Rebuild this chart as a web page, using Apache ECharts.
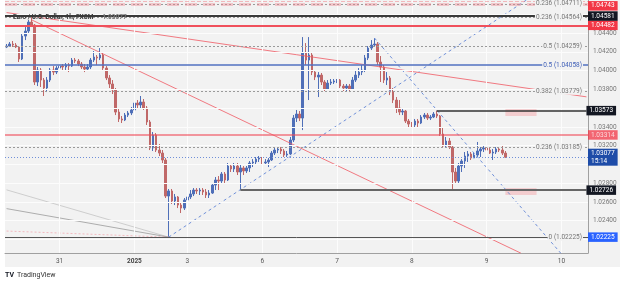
<!DOCTYPE html>
<html>
<head>
<meta charset="utf-8">
<script src="https://cdn.jsdelivr.net/npm/echarts@6/dist/echarts.min.js"></script>
<style>
html, body { margin: 0; padding: 0; background: #fff; }
#chart { width: 625px; height: 286px; }
</style>
</head>
<body>
<div id="chart"></div>
<script>
// EUR/USD 1h, FXCM - hourly bars
var opens = [1.04251,1.04261,1.04283,1.04272,1.04251,1.04123,1.04368,1.04421,1.04517,1.04485,
1.03878,1.04006,1.03899,1.03814,1.03899,1.04006,1.03984,1.04027,1.04048,1.04038,
1.04059,1.04048,1.04112,1.04102,1.04070,1.04038,1.04016,1.04038,1.04112,1.04144,
1.04134,1.04166,1.04027,1.03921,1.03857,1.03793,1.03558,1.03484,1.03473,1.03526,
1.03548,1.03580,1.03654,1.03633,1.03665,1.03601,1.03452,1.03175,1.03313,1.03153,
1.03121,1.03047,1.02663,1.02717,1.02610,1.02653,1.02567,1.02535,1.02621,1.02653,
1.02685,1.02727,1.02717,1.02727,1.02706,1.02674,1.02695,1.02780,1.02834,1.02823,
1.02898,1.02834,1.02983,1.02951,1.02983,1.02919,1.02962,1.02930,1.02962,1.03015,
1.03026,1.03057,1.03068,1.03015,1.03026,1.03047,1.03121,1.03153,1.03164,1.03143,
1.03100,1.03111,1.03260,1.03494,1.03537,1.03494,1.04187,1.04112,1.04166,1.03984,
1.03931,1.03952,1.03878,1.03803,1.03867,1.03878,1.03889,1.03899,1.03835,1.03814,
1.03835,1.03803,1.03899,1.03952,1.03984,1.04006,1.04134,1.04240,1.04272,1.04283,
1.04091,1.04038,1.03899,1.03921,1.03771,1.03686,1.03601,1.03558,1.03569,1.03462,
1.03430,1.03420,1.03462,1.03441,1.03505,1.03526,1.03494,1.03505,1.03537,1.03516,
1.03324,1.03196,1.03249,1.03185,1.02919,1.02823,1.02983,1.03036,1.03089,1.03111,
1.03068,1.03100,1.03143,1.03164,1.03175,1.03153,1.03121,1.03132,1.03164,1.03153,
1.03121];
var closes = [1.04261,1.04283,1.04272,1.04251,1.04123,1.04368,1.04421,1.04517,1.04485,1.03878,
1.04006,1.03899,1.03814,1.03899,1.04006,1.03984,1.04027,1.04048,1.04038,1.04059,
1.04048,1.04112,1.04102,1.04070,1.04038,1.04016,1.04038,1.04112,1.04144,1.04134,
1.04166,1.04027,1.03921,1.03857,1.03793,1.03558,1.03484,1.03473,1.03526,1.03548,
1.03580,1.03654,1.03633,1.03665,1.03601,1.03452,1.03175,1.03313,1.03153,1.03121,
1.03047,1.02663,1.02717,1.02610,1.02653,1.02567,1.02535,1.02621,1.02653,1.02685,
1.02727,1.02717,1.02727,1.02706,1.02674,1.02695,1.02780,1.02834,1.02823,1.02898,
1.02834,1.02983,1.02951,1.02983,1.02919,1.02962,1.02930,1.02962,1.03015,1.03026,
1.03057,1.03068,1.03015,1.03026,1.03047,1.03121,1.03153,1.03164,1.03143,1.03100,
1.03111,1.03260,1.03494,1.03537,1.03494,1.04187,1.04112,1.04166,1.03984,1.03931,
1.03952,1.03878,1.03803,1.03867,1.03878,1.03889,1.03899,1.03835,1.03814,1.03835,
1.03803,1.03899,1.03952,1.03984,1.04006,1.04134,1.04240,1.04272,1.04283,1.04091,
1.04038,1.03899,1.03921,1.03771,1.03686,1.03601,1.03558,1.03569,1.03462,1.03430,
1.03420,1.03462,1.03441,1.03505,1.03526,1.03494,1.03505,1.03537,1.03516,1.03324,
1.03196,1.03249,1.03185,1.02919,1.02823,1.02983,1.03036,1.03089,1.03111,1.03068,
1.03100,1.03143,1.03164,1.03175,1.03153,1.03121,1.03132,1.03164,1.03153,1.03121,
1.03077];
var lows = [1.04240,1.04251,1.04251,1.04240,1.04091,1.04112,1.04325,1.04400,1.04464,1.03846,
1.03835,1.03825,1.03729,1.03771,1.03878,1.03952,1.03963,1.03984,1.04006,1.04006,
1.03984,1.04038,1.04080,1.04048,1.04016,1.03984,1.04006,1.04016,1.04091,1.04059,
1.04112,1.04006,1.03899,1.03814,1.03750,1.03526,1.03452,1.03441,1.03462,1.03505,
1.03526,1.03558,1.03601,1.03601,1.03580,1.03420,1.03153,1.03143,1.03132,1.03089,
1.03015,1.02642,1.02225,1.02578,1.02567,1.02535,1.02482,1.02514,1.02599,1.02631,
1.02663,1.02685,1.02674,1.02674,1.02642,1.02642,1.02685,1.02727,1.02727,1.02802,
1.02802,1.02823,1.02919,1.02919,1.02887,1.02726,1.02887,1.02908,1.02919,1.02972,
1.03004,1.03026,1.02994,1.02994,1.02972,1.03036,1.03100,1.03121,1.03111,1.03079,
1.03079,1.03100,1.03239,1.03452,1.03462,1.03366,1.04059,1.03686,1.03952,1.03899,
1.03718,1.03846,1.03782,1.03793,1.03846,1.03857,1.03867,1.03814,1.03782,1.03782,
1.03771,1.03793,1.03878,1.03921,1.03952,1.03984,1.04112,1.04219,1.04251,1.04059,
1.03878,1.03867,1.03846,1.03739,1.03654,1.03548,1.03526,1.03526,1.03441,1.03398,
1.03388,1.03398,1.03398,1.03430,1.03484,1.03473,1.03473,1.03494,1.03494,1.03303,
1.03175,1.03175,1.03164,1.02726,1.02802,1.02802,1.02919,1.02962,1.03026,1.03047,
1.03068,1.03079,1.03079,1.03132,1.03121,1.03111,1.03047,1.03111,1.03132,1.03100,
1.03068];
var highs = [1.04283,1.04304,1.04315,1.04293,1.04261,1.04400,1.04464,1.04539,1.04592,1.04496,
1.04038,1.04027,1.03921,1.03931,1.04027,1.04048,1.04048,1.04080,1.04070,1.04080,
1.04080,1.04134,1.04134,1.04123,1.04091,1.04070,1.04070,1.04134,1.04208,1.04166,
1.04240,1.04187,1.04048,1.03952,1.03899,1.03814,1.03590,1.03516,1.03548,1.03569,
1.03612,1.03707,1.03686,1.03729,1.03697,1.03622,1.03473,1.03345,1.03334,1.03217,
1.03153,1.03068,1.02738,1.02738,1.02685,1.02663,1.02599,1.02642,1.02695,1.02727,
1.02748,1.02748,1.02748,1.02748,1.02738,1.02727,1.02802,1.02866,1.02876,1.02919,
1.02919,1.03015,1.02994,1.03015,1.03015,1.02994,1.02983,1.02983,1.03036,1.03057,
1.03079,1.03089,1.03079,1.03057,1.03068,1.03143,1.03185,1.03185,1.03185,1.03164,
1.03143,1.03292,1.03526,1.03580,1.03569,1.04357,1.04293,1.04357,1.04187,1.04006,
1.03984,1.03974,1.03899,1.03899,1.03910,1.03910,1.03910,1.03910,1.03857,1.03857,
1.03857,1.03931,1.04006,1.04027,1.04059,1.04166,1.04261,1.04325,1.04347,1.04304,
1.04155,1.04059,1.03984,1.03942,1.03814,1.03718,1.03686,1.03590,1.03580,1.03484,
1.03452,1.03484,1.03484,1.03526,1.03548,1.03548,1.03526,1.03558,1.03573,1.03526,
1.03388,1.03292,1.03281,1.03196,1.02962,1.03015,1.03057,1.03132,1.03143,1.03132,
1.03132,1.03239,1.03185,1.03196,1.03185,1.03175,1.03164,1.03185,1.03185,1.03207,
1.03143];

var barCount = 187;               // bars shown incl. empty space on the right
var dayIndex = [17, 41, 58, 82, 106, 130, 154, 178];
var dayLabels = ['31', '2025', '3', '6', '7', '8', '9', '10'];
var priceTicks = [1.024, 1.026, 1.028, 1.032, 1.034, 1.038, 1.040, 1.042, 1.044];
var priceGrid = [1.022, 1.024, 1.026, 1.028, 1.030, 1.032, 1.034, 1.036, 1.038, 1.040, 1.042, 1.044, 1.046];

// drawings
var redLevels = [1.04743, 1.04482, 1.03314];
var blackLevel = 1.04581;
var rayStarts = [138, 75];
var rayPrices = [1.03573, 1.02726];
var fibRatios = ['0.236', '0.236', '0.5', '0.382', '0.236', '0'];
var fibPrices = [1.04711, 1.04564, 1.04259, 1.03779, 1.03185, 1.02225];
var blueFibRatio = '0.5';
var blueFibPrice = 1.04058;
var lastPrice = 1.03077;
var lastTime = '15:14';
var zones = [[160, 170, 1.03590, 1.03516], [160, 170, 1.02748, 1.02674]];
var redTrend = [[0, 1.04618], [186, 1.03720]];
var redTrendSteep = [[8, 1.04541], [165, 1.02054]];
var blueTrendUp = [[52, 1.02225], [167, 1.04757]];
var blueTrendDown = [[118, 1.04347], [178, 1.02045]];
var fanStarts = [1.02729, 1.02529, 1.02290];
var fanEnd = [52, 1.02225];

var FONT = 'Roboto, "DejaVu Sans", sans-serif';
var BG = '#f2f2f2';

var chart = echarts.init(document.getElementById('chart'));

var categories = [];
for (var i = 0; i < barCount; i++) categories.push(String(i));
var candleData = opens.map(function (o, i) { return [o, closes[i], lows[i], highs[i]]; });

function boxLabel(bg, text, offset) {
    return {
        show: true, position: 'end', distance: 0, formatter: text,
        backgroundColor: bg, color: '#fff', fontSize: 6.5, fontFamily: FONT,
        padding: [1, 3], lineHeight: 7.5, offset: offset || [0, 0]
    };
}

var levelLines = [];
// red horizontal levels
redLevels.forEach(function (p, k) {
    levelLines.push({
        yAxis: p,
        lineStyle: k === 0 ? { color: 'rgba(240,110,120,0.45)', width: 1 } : { color: k === 1 ? '#f0505c' : '#f04c5a', width: k === 1 ? 2 : 1.5, type: 'solid', opacity: k === 1 ? 1 : 0.75 },
        label: boxLabel('#f23645', p.toFixed(5), k === 0 ? [0, 5] : null)
    });
});
levelLines.push({ yAxis: blackLevel, lineStyle: { color: '#3a3a3a', width: 2, type: 'solid' }, label: boxLabel('#131722', blackLevel.toFixed(5)) });
// rays starting at a bar
rayPrices.forEach(function (p, k) {
    levelLines.push([
        { coord: [rayStarts[k], p], lineStyle: { color: k === 0 ? '#333' : '#666', width: k === 0 ? 1.5 : 2, type: 'solid' }, label: boxLabel('#131722', p.toFixed(5)) },
        { coord: [barCount - 1, p] }
    ]);
});
// fib levels
fibPrices.forEach(function (p, k) {
    levelLines.push({
        yAxis: p,
        lineStyle: { color: k === 5 ? '#555' : '#9a9a9a', width: 1, type: k === 5 ? 'solid' : [2, 2] },
        label: {
            show: true, position: 'insideEnd', distance: 5,
            formatter: fibRatios[k] + ' (' + p.toFixed(5) + ')',
            color: '#777', fontSize: 6.5, fontFamily: FONT, backgroundColor: BG, padding: [0, 1]
        }
    });
});
levelLines.push({ yAxis: fibPrices[0], lineStyle: { color: 'rgba(240,130,140,0.4)', width: 3 }, label: { show: false } });
levelLines.push({ yAxis: fibPrices[5], lineStyle: { color: 'rgba(0,0,0,0)', width: 1 }, label: boxLabel('#2962ff', fibPrices[5].toFixed(5)) });
levelLines.push({
    yAxis: blueFibPrice,
    lineStyle: { color: '#5070c0', width: 1.5, type: 'solid' },
    label: {
        show: true, position: 'insideEnd', distance: 5,
        formatter: blueFibRatio + ' (' + blueFibPrice.toFixed(5) + ')',
        color: '#4060b8', fontSize: 6.5, fontFamily: FONT, backgroundColor: BG, padding: [0, 1]
    }
});
levelLines.push({
    yAxis: lastPrice,
    lineStyle: { color: '#6f8fd8', width: 1, type: [1, 2] },
    label: boxLabel('#1e4ca8', lastPrice.toFixed(5) + '\n' + lastTime)
});

var gridLines = priceGrid.map(function (p) { return { yAxis: p }; })
    .concat(dayIndex.map(function (d) { return { xAxis: d }; }));

function trendSeries(data, color, type, width) {
    return {
        type: 'line', data: data, symbol: 'none', silent: true, z: 4, clip: true,
        lineStyle: { color: color, width: width || 1, type: type || 'solid' }
    };
}

var series = [
    {
        type: 'line', data: [], silent: true, z: 1,
        markLine: {
            silent: true, symbol: ['none', 'none'], animation: false, precision: 5,
            lineStyle: { color: '#fcfcfc', width: 1, type: 'solid' },
            label: { show: false }, emphasis: { disabled: true },
            data: gridLines
        }
    },
    {
        type: 'candlestick', data: candleData, z: 3, barWidth: 2,
        itemStyle: { color: '#4f6fb8', color0: '#c06868', borderColor: '#4f6fb8', borderColor0: '#c06868', borderWidth: 1 }
    },
    {
        type: 'line', data: [], silent: true, z: 4,
        markLine: {
            silent: true, symbol: ['none', 'none'], animation: false, precision: 5,
            emphasis: { disabled: true },
            data: levelLines
        },
        markArea: {
            silent: true,
            itemStyle: { color: 'rgba(244,160,165,0.45)' },
            data: zones.map(function (z) { return [{ coord: [z[0], z[2]] }, { coord: [z[1], z[3]] }]; })
        }
    },
    trendSeries(redTrend, 'rgba(240,90,100,0.8)'),
    trendSeries(redTrendSteep, 'rgba(240,90,100,0.8)'),
    trendSeries(blueTrendUp, '#7090d8', [3, 3]),
    trendSeries(blueTrendDown, '#7090d8', [3, 3])
];
fanStarts.forEach(function (p, k) {
    series.push(trendSeries([[0, p], fanEnd],
        ['#c4c4c4', '#9a9a9a', 'rgba(240,140,150,0.7)'][k], k === 2 ? [2, 2] : 'solid', 0.8));
});

var option = {
    animation: false,
    backgroundColor: '#fff',
    textStyle: { fontFamily: FONT },
    title: {
        text: '{a|Euro / U.S. Dollar, 1h, FXCM}  {b|' + lastPrice.toFixed(5) + '}',
        left: 8, top: 3,
        textStyle: { rich: { a: { fontSize: 6.5, color: '#3a3a3a', fontFamily: FONT }, b: { fontSize: 6.5, color: '#777', fontFamily: FONT } } }
    },
    graphic: [
        { type: 'rect', z: -100, silent: true, shape: { x: 5, y: 0, width: 615, height: 267 }, style: { fill: BG } },
        { type: 'text', left: 5, top: 272, style: { text: 'TV', font: 'bold 7px ' + FONT, fill: '#131722' } },
        { type: 'text', left: 17, top: 272, style: { text: 'TradingView', font: '7px ' + FONT, fill: '#333' } }
    ],
    grid: { left: 5, right: 37, top: 0, bottom: 33 },
    xAxis: {
        type: 'category', data: categories, boundaryGap: true,
        axisLine: { lineStyle: { color: '#a0a0a0' } },
        axisTick: { show: false },
        splitLine: { show: false },
        axisLabel: {
            interval: function (index) { return dayIndex.indexOf(index) >= 0; },
            formatter: function (v, index) {
                var k = dayIndex.indexOf(index);
                if (k < 0) return '';
                return dayLabels[k] === '2025' ? '{y|2025}' : dayLabels[k];
            },
            rich: { y: { fontWeight: 'bold', fontSize: 6.5, color: '#444' } },
            color: '#555', fontSize: 6.5, margin: 5
        }
    },
    yAxis: {
        type: 'value', position: 'right', scale: true,
        min: 1.02056, max: 1.04752,
        axisLine: { show: true, lineStyle: { color: '#a0a0a0' } },
        axisTick: { show: false },
        splitLine: { show: false },
        axisLabel: {
            customValues: priceTicks,
            formatter: function (v) { return v.toFixed(5); },
            color: '#777', fontSize: 6.5, margin: 5
        }
    },
    series: series
};
chart.setOption(option);
</script>
</body>
</html>
